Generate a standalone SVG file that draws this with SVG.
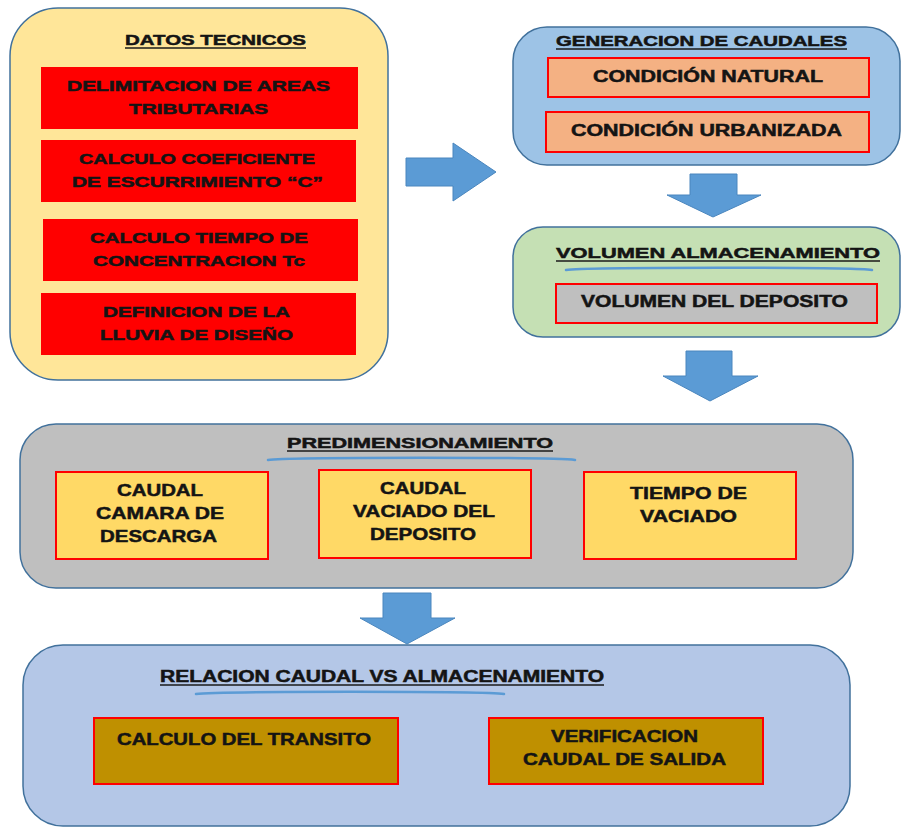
<svg xmlns="http://www.w3.org/2000/svg" width="901" height="827" viewBox="0 0 901 827">
<style>
.t{font-family:"Liberation Sans",Arial,sans-serif;font-weight:bold;fill:#141414;stroke:#141414;stroke-width:0.5;}
.s15{font-size:15px;}
.s16{font-size:16px;}
.s17{font-size:17px;}
.cont{stroke:#41719C;stroke-width:1.5;}
.rbox{stroke:#FF0000;stroke-width:2;}
.ul{stroke:#1a1a1a;stroke-width:1.5;}
.arr{fill:#5B9BD5;stroke:#4A86BE;stroke-width:1;}
.lens{fill:none;stroke:#5B9BD5;stroke-width:2.5;stroke-linecap:round;}
</style>
<rect width="901" height="827" fill="#FFFFFF"/>

<g id="connectors">
<path class="arr" d="M406,158 H453 V143 L496,172 L453,201 V186 H406 Z"/>
<path class="arr" d="M690,174 H737 V195 H761 L713,217 L667,195 H690 Z"/>
<path class="arr" d="M686,351 H732 V376 H758 L710,401 L663,376 H686 Z"/>
<path class="arr" d="M383,593 H431 V618 H455 L407,644 L360,618 H383 Z"/>
</g>

<g id="datos-tecnicos">
<rect class="cont" x="10" y="8" width="378" height="372" rx="48" ry="48" fill="#FFE699"/>
<text class="t s15" x="125" y="45" textLength="181" lengthAdjust="spacingAndGlyphs">DATOS TECNICOS</text>
<line class="ul" x1="125" y1="48" x2="306" y2="48"/>
</g>
<g id="delimitacion">
<rect x="41" y="67" width="317" height="62" fill="#FF0000"/>
<text class="t s15" x="67" y="91" textLength="263" lengthAdjust="spacingAndGlyphs">DELIMITACION DE AREAS</text>
<text class="t s15" x="129" y="114" textLength="139" lengthAdjust="spacingAndGlyphs">TRIBUTARIAS</text>
</g>
<g id="coeficiente">
<rect x="41" y="140" width="315" height="62" fill="#FF0000"/>
<text class="t s15" x="79" y="164" textLength="236" lengthAdjust="spacingAndGlyphs">CALCULO COEFICIENTE</text>
<text class="t s15" x="72" y="187" textLength="251" lengthAdjust="spacingAndGlyphs">DE ESCURRIMIENTO “C”</text>
</g>
<g id="tiempo-concentracion">
<rect x="43" y="219" width="315" height="62" fill="#FF0000"/>
<text class="t s15" x="90" y="243" textLength="218" lengthAdjust="spacingAndGlyphs">CALCULO TIEMPO DE</text>
<text class="t s15" x="93" y="266" textLength="212" lengthAdjust="spacingAndGlyphs">CONCENTRACION Tc</text>
</g>
<g id="lluvia-diseno">
<rect x="41" y="293" width="315" height="62" fill="#FF0000"/>
<text class="t s15" x="103" y="317" textLength="187" lengthAdjust="spacingAndGlyphs">DEFINICION DE LA</text>
<text class="t s15" x="100" y="340" textLength="193" lengthAdjust="spacingAndGlyphs">LLUVIA DE DISEÑO</text>
</g>

<g id="generacion-caudales">
<rect class="cont" x="513" y="27" width="387" height="138" rx="34" ry="34" fill="#9DC3E6"/>
<text class="t s15" x="556" y="46" textLength="291" lengthAdjust="spacingAndGlyphs">GENERACION DE CAUDALES</text>
<line class="ul" x1="556" y1="49" x2="847" y2="49"/>
</g>
<g id="condicion-natural">
<rect class="rbox" x="548" y="58" width="321" height="39" fill="#F4B183"/>
<text class="t s16" x="593" y="82" textLength="230" lengthAdjust="spacingAndGlyphs">CONDICIÓN NATURAL</text>
</g>
<g id="condicion-urbanizada">
<rect class="rbox" x="546" y="112" width="323" height="40" fill="#F4B183"/>
<text class="t s16" x="571" y="136" textLength="271" lengthAdjust="spacingAndGlyphs">CONDICIÓN URBANIZADA</text>
</g>

<g id="volumen-almacenamiento">
<rect class="cont" x="513" y="227" width="387" height="110" rx="30" ry="30" fill="#C5E0B4"/>
<text class="t s15" x="556" y="258" textLength="324" lengthAdjust="spacingAndGlyphs">VOLUMEN ALMACENAMIENTO</text>
<line class="ul" x1="556" y1="261" x2="880" y2="261"/>
<path class="lens" d="M566,270 C586,267 852,267 872,270"/>
</g>
<g id="volumen-deposito">
<rect class="rbox" x="556" y="284" width="321" height="39" fill="#BFBFBF"/>
<text class="t s16" x="581" y="307" textLength="267" lengthAdjust="spacingAndGlyphs">VOLUMEN DEL DEPOSITO</text>
</g>

<g id="predimensionamiento">
<rect class="cont" x="20" y="424" width="833" height="164" rx="36" ry="36" fill="#BFBFBF"/>
<text class="t s15" x="287" y="448" textLength="266" lengthAdjust="spacingAndGlyphs">PREDIMENSIONAMIENTO</text>
<line class="ul" x1="287" y1="451" x2="553" y2="451"/>
<path class="lens" d="M268,460 C288,457 555,457 575,460"/>
</g>
<g id="caudal-camara">
<rect class="rbox" x="56" y="472" width="212" height="87" fill="#FFD966"/>
<text class="t s17" x="117" y="496" textLength="86" lengthAdjust="spacingAndGlyphs">CAUDAL</text>
<text class="t s17" x="96" y="519" textLength="128" lengthAdjust="spacingAndGlyphs">CAMARA DE</text>
<text class="t s17" x="100" y="542" textLength="117" lengthAdjust="spacingAndGlyphs">DESCARGA</text>
</g>
<g id="caudal-vaciado">
<rect class="rbox" x="319" y="470" width="212" height="88" fill="#FFD966"/>
<text class="t s17" x="380" y="494" textLength="86" lengthAdjust="spacingAndGlyphs">CAUDAL</text>
<text class="t s17" x="353" y="517" textLength="142" lengthAdjust="spacingAndGlyphs">VACIADO DEL</text>
<text class="t s17" x="370" y="540" textLength="106" lengthAdjust="spacingAndGlyphs">DEPOSITO</text>
</g>
<g id="tiempo-vaciado">
<rect class="rbox" x="584" y="472" width="212" height="87" fill="#FFD966"/>
<text class="t s17" x="630" y="499" textLength="117" lengthAdjust="spacingAndGlyphs">TIEMPO DE</text>
<text class="t s17" x="640" y="522" textLength="97" lengthAdjust="spacingAndGlyphs">VACIADO</text>
</g>

<g id="relacion-caudal">
<rect class="cont" x="23" y="645" width="827" height="181" rx="40" ry="40" fill="#B4C7E7"/>
<text class="t s16" x="160" y="682" textLength="444" lengthAdjust="spacingAndGlyphs">RELACION CAUDAL VS ALMACENAMIENTO</text>
<line class="ul" x1="160" y1="685" x2="604" y2="685"/>
<path class="lens" d="M196,694 C216,691 484,691 504,694"/>
</g>
<g id="calculo-transito">
<rect class="rbox" x="94" y="718" width="304" height="66" fill="#BF9000"/>
<text class="t s17" x="117" y="745" textLength="254" lengthAdjust="spacingAndGlyphs">CALCULO DEL TRANSITO</text>
</g>
<g id="verificacion-caudal">
<rect class="rbox" x="489" y="718" width="274" height="66" fill="#BF9000"/>
<text class="t s17" x="551" y="742" textLength="147" lengthAdjust="spacingAndGlyphs">VERIFICACION</text>
<text class="t s17" x="523" y="765" textLength="203" lengthAdjust="spacingAndGlyphs">CAUDAL DE SALIDA</text>
</g>
</svg>
